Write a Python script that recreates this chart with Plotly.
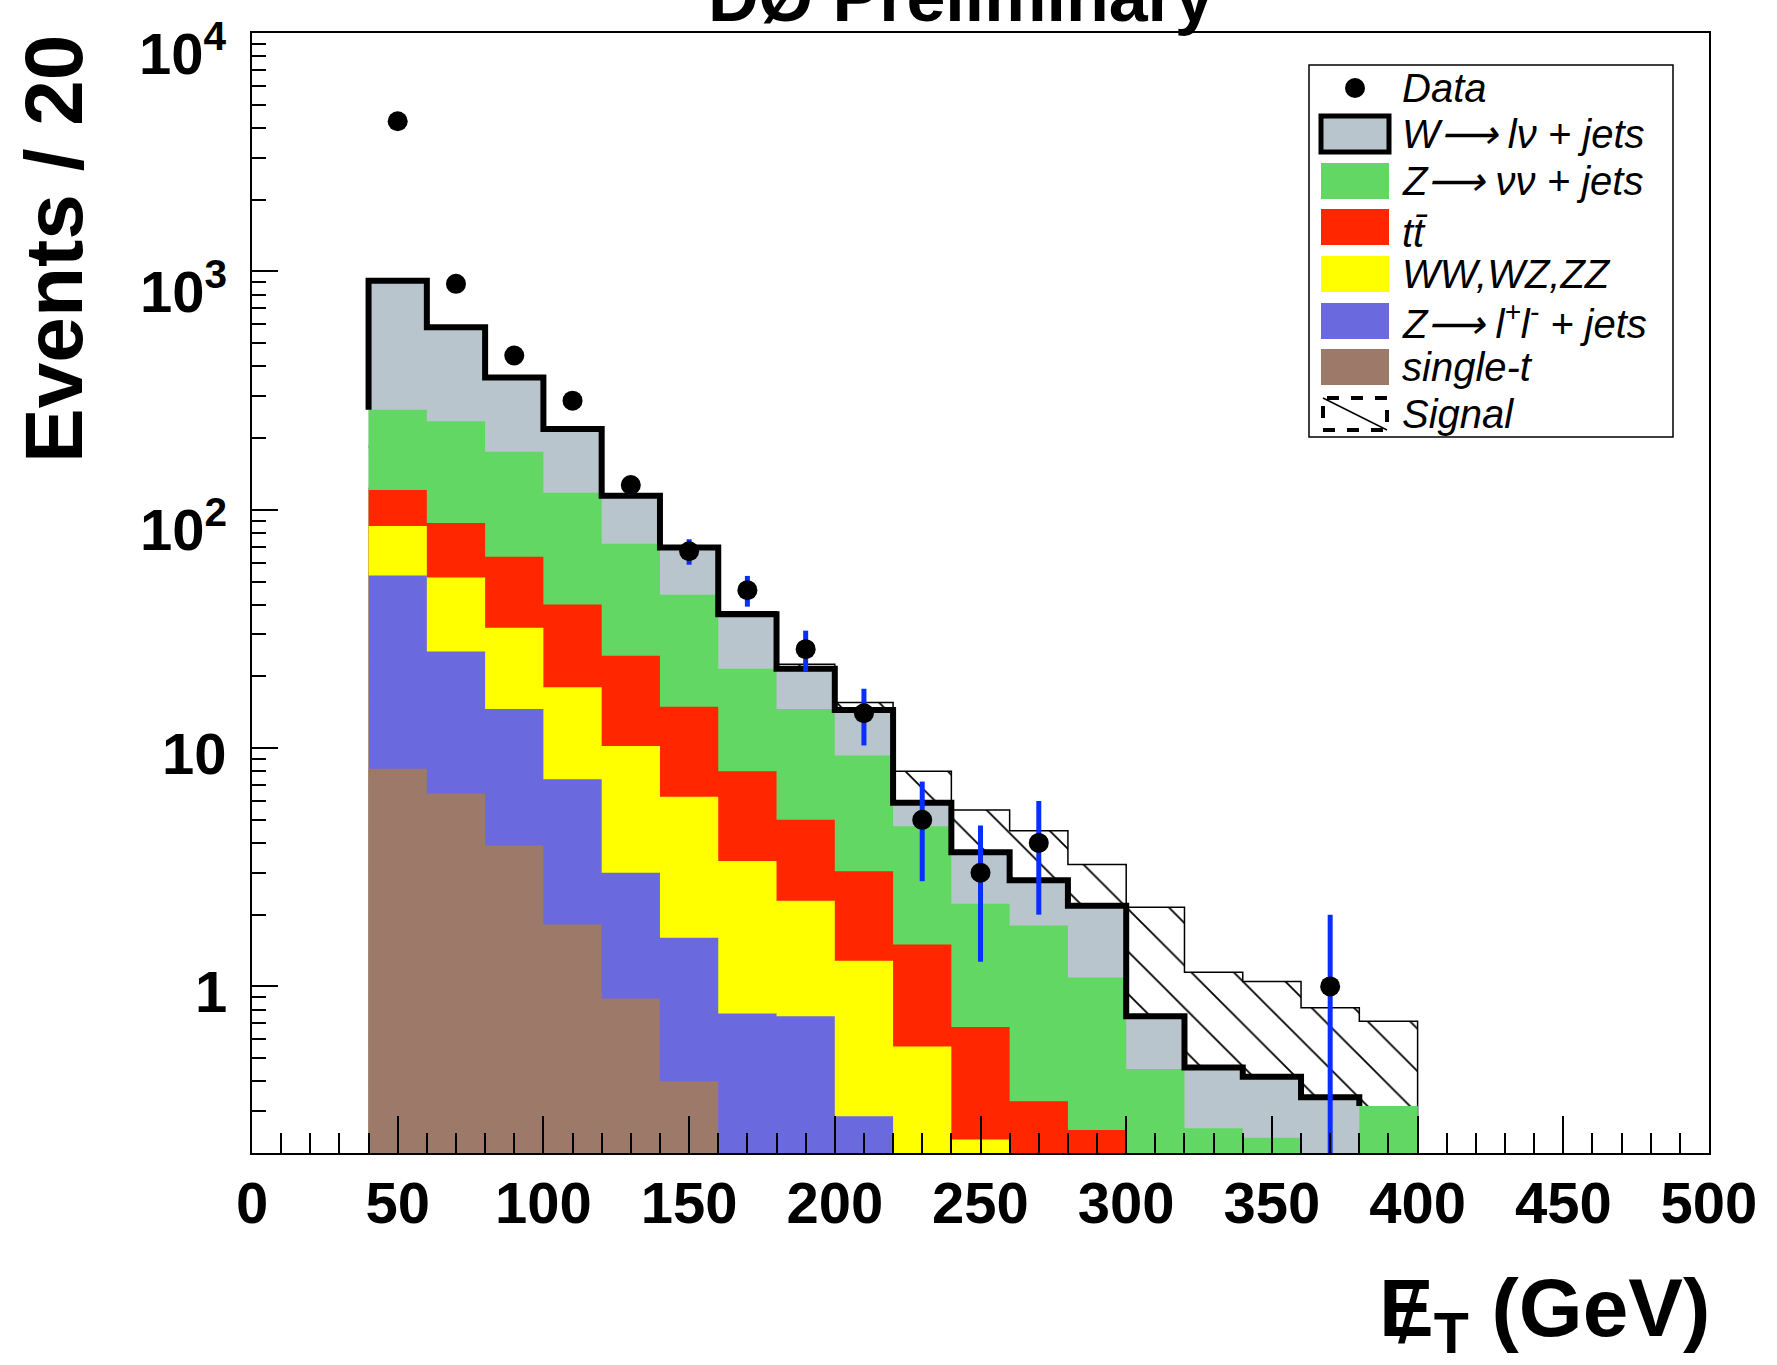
import numpy as np
import plotly.graph_objects as go

# ---------------- data ----------------
bin_edges = list(range(40, 420, 20))          # 40 ... 400 GeV, 18 bins of 20 GeV
bin_centers = [e + 10 for e in bin_edges[:-1]]

single_t = [8.2, 6.45, 3.9, 1.82, 0.89, 0.40, 0, 0, 0, 0, 0, 0, 0, 0, 0, 0, 0, 0]
z_ll     = [44.8, 18.95, 10.7, 5.58, 2.11, 1.2, 0.77, 0.75, 0.285, 0, 0, 0, 0, 0, 0, 0, 0, 0]
diboson  = [32.5, 26.6, 17.4, 10.6, 7.2, 4.65, 2.59, 1.54, 0.995, 0.56, 0.228, 0, 0, 0, 0, 0, 0, 0]
ttbar    = [35.5, 36.0, 31.5, 22.0, 14.2, 8.65, 4.64, 2.71, 1.76, 0.94, 0.447, 0.33, 0.25, 0, 0, 0, 0, 0]
z_nunu   = [142, 147, 111.5, 78, 47.6, 29.1, 13.5, 9.6, 6.26, 3.2, 1.545, 1.47, 0.84, 0.45, 0.254, 0.232, 0.15, 0.315]
w_lnu    = [652, 348, 184, 100, 42.5, 25.5, 14.9, 6.9, 5.15, 1.2, 1.44, 0.99, 1.09, 0.30, 0.203, 0.186, 0.193, 0]
signal   = [0.5, 0.6, 0.7, 0.8, 0.9, 0.9, 0.9, 1.0, 1.1, 2.1, 1.84, 1.71, 1.07, 1.4, 0.69, 0.63, 0.47, 0.40]
data     = [4270, 887, 444, 287, 127, 67, 46, 26, 14, 5, 3, 4, 0, 0, 0, 0, 1, 0]

x_ticks = [0, 50, 100, 150, 200, 250, 300, 350, 400, 450, 500]
y_tickvals = [1, 10, 100, 1000, 10000]
y_ticktext = ["1", "10", "10<sup>2</sup>", "10<sup>3</sup>", "10<sup>4</sup>"]

labels = ["Data", "W\u27f6 l\u03bd + jets", "Z\u27f6 \u03bd\u03bd + jets", "tt\u0304",
          "WW,WZ,ZZ", "Z\u27f6 l<sup>+</sup>l<sup>-</sup> + jets", "single-t", "Signal"]

# ---------------- styling ----------------
C_W = "#b9c5cc"
C_ZNN = "#62d763"
C_TT = "#ff2600"
C_VV = "#ffff00"
C_ZLL = "#6a6ade"
C_ST = "#9c7968"
C_ERR = "#0a2eff"
FONT = "Liberation Sans, Arial, Helvetica, sans-serif"
YMIN = 0.2
TINY = 1e-4

# cumulative stack
c_st = np.array(single_t, float)
c_zll = c_st + np.array(z_ll)
c_vv = c_zll + np.array(diboson)
c_tt = c_vv + np.array(ttbar)
c_znn = c_tt + np.array(z_nunu)
c_tot = c_znn + np.array(w_lnu)
c_sig = c_tot + np.array(signal)


def step(vals, close=False):
    v = np.maximum(np.asarray(vals, float), TINY)
    xs = list(bin_edges)
    ys = list(v) + [v[-1]]
    if close:
        xs = xs + [bin_edges[-1]]
        ys = ys + [TINY]
    return xs, ys


fig = go.Figure()

# signal (hatched, on top of total background)
sx, sy = step(c_sig, close=True)
fig.add_trace(go.Scatter(x=sx, y=sy, mode="lines", line_shape="hv",
                         line=dict(color="black", width=1.5), fill="tozeroy",
                         fillcolor="white",
                         fillpattern=dict(shape="\\", fgcolor="black", bgcolor="white",
                                          size=30, solidity=0.06, fillmode="replace"),
                         showlegend=False, hoverinfo="skip"))

for cum, col in [(c_tot, C_W), (c_znn, C_ZNN), (c_tt, C_TT), (c_vv, C_VV),
                 (c_zll, C_ZLL), (c_st, C_ST)]:
    x_, y_ = step(cum)
    fig.add_trace(go.Scatter(x=x_, y=y_, mode="lines", line_shape="hv",
                             line=dict(color=col, width=0), fill="tozeroy",
                             fillcolor=col, showlegend=False, hoverinfo="skip"))

# thick outline of total background (W + jets on top), from 40 to 380 GeV
n_w = 17
ox = [bin_edges[0]] + bin_edges[:n_w] + [bin_edges[n_w]]
oy = [c_znn[0]] + list(c_tot[:n_w]) + [c_znn[n_w]]
fig.add_trace(go.Scatter(x=ox, y=oy, mode="lines", line_shape="hv",
                         line=dict(color="black", width=6), showlegend=False,
                         hoverinfo="skip"))

# data points with sqrt(N) errors
dx = [c for c, d in zip(bin_centers, data) if d > 0]
dy = [d for d in data if d > 0]
err = [np.sqrt(d) for d in dy]
err_lo = [min(e, d - TINY) for e, d in zip(err, dy)]
fig.add_trace(go.Scatter(x=dx, y=dy, mode="markers",
                         marker=dict(color="black", size=20, symbol="circle"),
                         error_y=dict(type="data", array=err, arrayminus=err_lo,
                                      symmetric=False, color=C_ERR, thickness=5, width=0),
                         showlegend=False, hoverinfo="skip"))

# ---------------- layout ----------------
W, H = 1777, 1365
L, R, T, B = 252, 1709, 33, 1153


def px(X, Y):
    return (X - L) / (R - L), (B - Y) / (B - T)


shapes = []
annotations = []

# y tick labels (ROOT places power labels a little below their tick)
lab_x, _ = px(229, 0)
for v, t in zip(y_tickvals, y_ticktext):
    annotations.append(dict(xref="paper", yref="y", x=lab_x, y=np.log10(v),
                            xanchor="right", yanchor="middle", showarrow=False,
                            yshift=-16 if "sup" in t else -5, text="<b>" + t + "</b>",
                            font=dict(family=FONT, size=58, color="black")))

# legend box
x0, y0 = px(1309, 65)
x1, y1 = px(1673, 437)
shapes.append(dict(type="rect", xref="paper", yref="paper", x0=x0, x1=x1, y0=y1, y1=y0,
                   line=dict(color="black", width=1.5), fillcolor="white", layer="above"))

rows_y = [88, 134, 181, 227, 274, 321, 367, 414]
sw_x0, sw_x1, sw_h = 1321, 1389, 36
swatch_colors = [None, C_W, C_ZNN, C_TT, C_VV, C_ZLL, C_ST, None]
for i, (lab, yc, colr) in enumerate(zip(labels, rows_y, swatch_colors)):
    if i == 0:
        a0, b0 = px(1345, yc - 10)
        a1, b1 = px(1365, yc + 10)
        shapes.append(dict(type="circle", xref="paper", yref="paper", x0=a0, x1=a1,
                           y0=b1, y1=b0, fillcolor="black", line=dict(color="black", width=0),
                           layer="above"))
    elif i == 7:
        a0, b0 = px(sw_x0 + 2, yc - sw_h / 2 + 2)
        a1, b1 = px(sw_x1 - 2, yc + sw_h / 2 - 2)
        shapes.append(dict(type="rect", xref="paper", yref="paper", x0=a0, x1=a1,
                           y0=b1, y1=b0, fillcolor="white",
                           line=dict(color="black", width=4, dash="dash"), layer="above"))
        shapes.append(dict(type="line", xref="paper", yref="paper", x0=a0, x1=a1,
                           y0=b0, y1=b1, line=dict(color="black", width=1.5), layer="above"))
    else:
        a0, b0 = px(sw_x0, yc - sw_h / 2)
        a1, b1 = px(sw_x1, yc + sw_h / 2)
        lw = 5 if i == 1 else 0
        shapes.append(dict(type="rect", xref="paper", yref="paper", x0=a0, x1=a1,
                           y0=b1, y1=b0, fillcolor=colr,
                           line=dict(color="black" if i == 1 else colr, width=lw),
                           layer="above"))
    tx, ty = px(1400, yc + (6 if i == 3 else 0))
    annotations.append(dict(xref="paper", yref="paper", x=tx, y=ty, xanchor="left",
                            yanchor="middle", showarrow=False,
                            text="<i>" + lab + "</i>",
                            font=dict(family=FONT, size=40, color="black")))

# title (cut at the top of the page)
tx, ty = px(961, -3)
annotations.append(dict(xref="paper", yref="paper", x=tx, y=ty, xanchor="center",
                        yanchor="middle", showarrow=False, text="<b>D\u00d8 Preliminary</b>",
                        font=dict(family=FONT, size=70, color="black")))

# axis titles
tx, ty = px(54, 249)
annotations.append(dict(xref="paper", yref="paper", x=tx, y=ty, xanchor="center",
                        yanchor="middle", showarrow=False, textangle=-90,
                        text="<b>Events / 20</b>",
                        font=dict(family=FONT, size=82, color="black")))
tx, ty = px(1712, 1313)
annotations.append(dict(xref="paper", yref="paper", x=tx, y=ty, xanchor="right",
                        yanchor="middle", showarrow=False,
                        text="<b>E<sub>T</sub> (GeV)</b>",
                        font=dict(family=FONT, size=82, color="black")))
# slash over the E of missing E_T
tx, ty = px(1410, 1314)
annotations.append(dict(xref="paper", yref="paper", x=tx, y=ty, xanchor="center",
                        yanchor="middle", showarrow=False, text="/",
                        font=dict(family=FONT, size=84, color="black")))

minor_y = [k * 10.0 ** e for e in range(-1, 4) for k in range(2, 10) if k * 10.0 ** e >= YMIN]

fig.update_layout(
    width=W, height=H,
    margin=dict(l=L, r=W - R, t=T, b=H - B, pad=0),
    paper_bgcolor="white", plot_bgcolor="white",
    showlegend=False,
    shapes=shapes, annotations=annotations,
    xaxis=dict(range=[0, 500], showgrid=False, zeroline=False, showline=True,
               linecolor="black", linewidth=1.5, mirror=True,
               ticks="inside", ticklen=37, tickwidth=1.5, tickcolor="black",
               tickmode="array", tickvals=x_ticks, ticktext=[str(v) for v in x_ticks],
               minor=dict(dtick=10, tick0=0, ticks="inside", ticklen=20, tickwidth=1.5,
                          tickcolor="black", showgrid=False),
               tickfont=dict(family=FONT, size=58, color="black", weight="bold"),
               ticklabelstandoff=-1),
    yaxis=dict(type="log", range=[np.log10(YMIN), 4.0005], showgrid=False, zeroline=False,
               showline=True, linecolor="black", linewidth=1.5, mirror=True,
               ticks="inside", ticklen=26, tickwidth=1.5, tickcolor="black",
               tickmode="array", tickvals=y_tickvals, ticktext=y_ticktext,
               showticklabels=False,
               minor=dict(tickmode="array", tickvals=minor_y, ticks="inside", ticklen=14,
                          tickwidth=1.5, tickcolor="black", showgrid=False)),
)

fig.write_html("out.html", config={"displayModeBar": False},
               post_script="document.body.style.margin='0px';")
